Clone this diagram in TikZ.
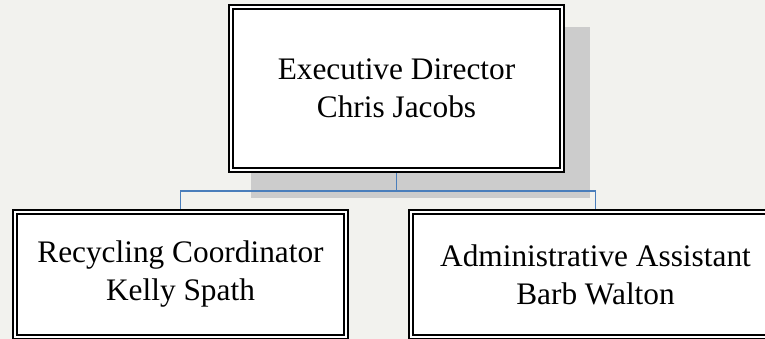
\documentclass[tikz,border=0pt]{standalone}
\usepackage{fontspec}
\setmainfont{Liberation Serif}
\usetikzlibrary{backgrounds}

\definecolor{pagebg}{RGB}{242,242,238}
\definecolor{shadowgrey}{RGB}{204,204,204}
\definecolor{linkblue}{RGB}{74,126,187}

\tikzset{every picture/.style={line width=0.75pt}}
\tikzset{
  posbox/.style={draw=black, fill=white, line width=1.3pt, double=white, double distance=2pt,
    align=center, inner sep=0pt, font=\fontsize{23.5}{28.5}\selectfont},
  orgline/.style={draw=linkblue, line width=1.4pt}
}

\begin{document}
\begin{tikzpicture}[x=0.75pt,y=0.75pt,yscale=-1,xscale=1]
		\useasboundingbox (0,0) rectangle (765,339);
		\clip (0,0) rectangle (765,339);

		%Shape: Box [id:exec] 
		\node [posbox, minimum width=248.25pt, minimum height=122.25pt] (exec) at (396.5,88.5) {Executive Director\\Chris Jacobs};
		%Shape: Box [id:recyc] 
		\node [posbox, minimum width=248.25pt, minimum height=93.75pt] (recyc) at (180.5,274.5) {Recycling Coordinator\\Kelly Spath};
		%Shape: Box [id:admin] 
		\node [posbox, minimum width=276.75pt, minimum height=93.75pt] (admin) at (595.5,274.5) {Administrative Assistant\\Barb Walton};

		\begin{pgfonlayer}{background}
		%Shape: Rectangle [id:page] 
		\fill [pagebg] (0,0) rectangle (765,339);
		%Shape: Rectangle [id:shadow] 
		\fill [shadowgrey] ([shift={(21,21)}]exec.north west) rectangle ([shift={(27,27)}]exec.south east);
		%Straight Lines [id:links] 
		\draw [orgline] (exec.south) -- ++(0,20) coordinate (split) -| (recyc.north);
		\draw [orgline] (split) -| (admin.north);
		\end{pgfonlayer}

	\end{tikzpicture}
\end{document}
